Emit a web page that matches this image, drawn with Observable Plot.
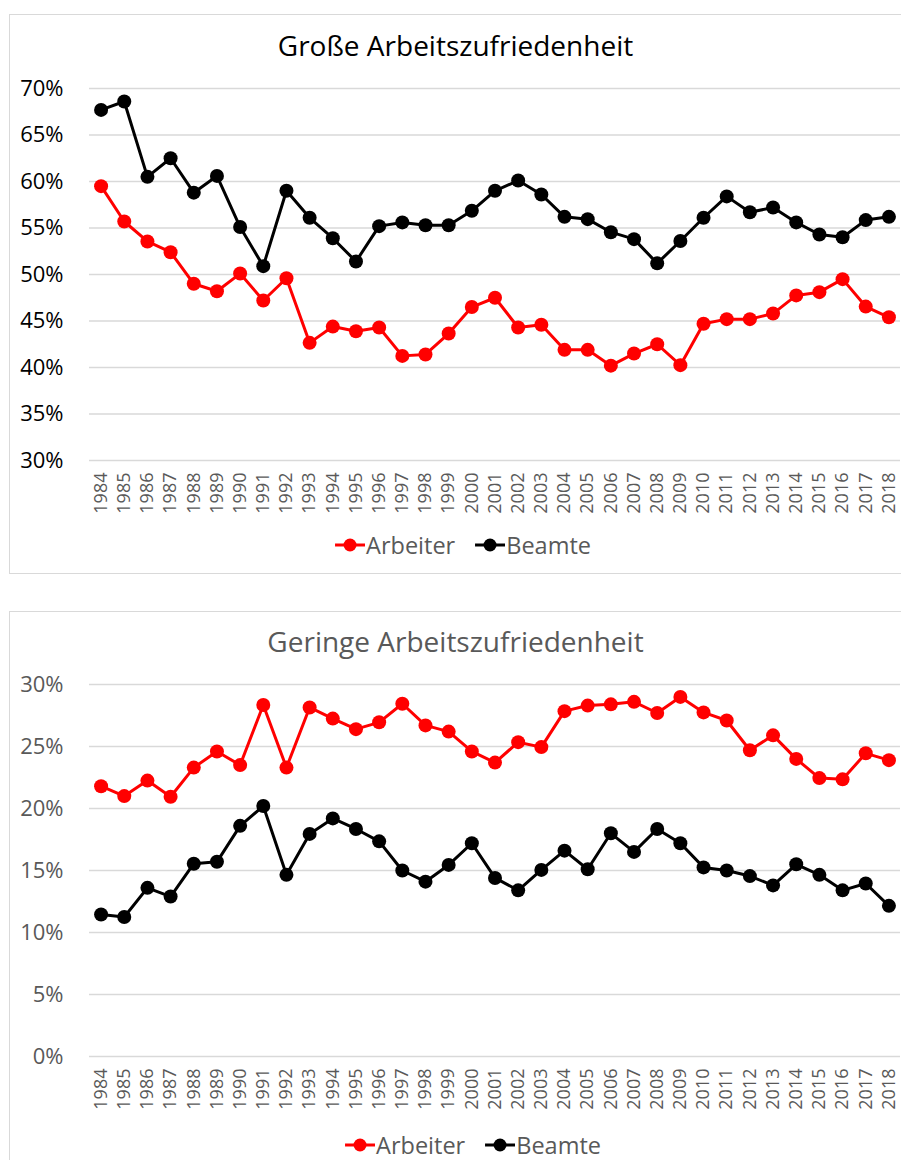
<!DOCTYPE html>
<html>
<head>
<meta charset="utf-8">
<script src="https://cdn.jsdelivr.net/npm/d3@7"></script>
<script src="https://cdn.jsdelivr.net/npm/@observablehq/plot@0.6"></script>
<style>
  html, body { margin: 0; padding: 0; background: #fff; }
  body { position: relative; width: 901px; height: 1160px; overflow: hidden; font-family: "Open Sans", sans-serif; }
  .panel { position: absolute; left: 9px; width: 920px; border: 1px solid #d9d9d9; box-sizing: border-box; }
  .title { position: absolute; left: 10px; width: 891px; text-align: center; line-height: 36px; height: 36px; white-space: nowrap; }
  .chart { position: absolute; left: 10px; }
  .legend { position: absolute; display: flex; align-items: center; height: 26px; line-height: 26px; font-size: 23.5px; color: #595959; white-space: nowrap; transform: translateX(-50%); }
  .legend .item { display: flex; align-items: center; margin: 0 10px; }
  .legend svg { display: block; margin-right: 1px; }
</style>
</head>
<body>
<div class="panel" style="top:14px;height:560px;"></div>
<div class="panel" style="top:611px;height:600px;"></div>
<div class="title" style="top:27px;font-size:28px;color:#000;">Große Arbeitszufriedenheit</div>
<div class="title" style="top:623px;font-size:28px;color:#595959;">Geringe Arbeitszufriedenheit</div>
<div id="chart1" class="chart" style="top:70px;"></div>
<div id="chart2" class="chart" style="top:666px;"></div>
<div id="legend1" class="legend" style="top:532px;left:463px;"></div>
<div id="legend2" class="legend" style="top:1132px;left:473px;"></div>
<script>
const years = ["1984","1985","1986","1987","1988","1989","1990","1991","1992","1993","1994","1995","1996","1997","1998","1999","2000","2001","2002","2003","2004","2005","2006","2007","2008","2009","2010","2011","2012","2013","2014","2015","2016","2017","2018"];
const seriesNames = ["Arbeiter", "Beamte"];
const seriesColors = ["#ff0000", "#000000"];

// Große Arbeitszufriedenheit (%)
const grossArbeiter = [59.5,55.7,53.55,52.4,49.0,48.2,50.1,47.2,49.6,42.65,44.4,43.9,44.3,41.25,41.4,43.65,46.5,47.5,44.3,44.6,41.9,41.9,40.2,41.5,42.5,40.25,44.7,45.2,45.2,45.8,47.75,48.1,49.5,46.55,45.4];
const grossBeamte   = [67.7,68.6,60.5,62.5,58.8,60.6,55.1,50.9,59.0,56.1,53.9,51.4,55.2,55.6,55.3,55.3,56.85,59.0,60.1,58.6,56.2,55.95,54.55,53.8,51.2,53.6,56.1,58.4,56.7,57.2,55.6,54.3,54.0,55.85,56.2];

// Geringe Arbeitszufriedenheit (%)
const geringArbeiter = [21.8,21.0,22.25,20.95,23.3,24.6,23.5,28.35,23.3,28.15,27.25,26.4,26.95,28.45,26.7,26.2,24.6,23.7,25.35,24.95,27.85,28.3,28.4,28.6,27.7,29.0,27.75,27.1,24.7,25.9,24.0,22.45,22.35,24.45,23.9];
const geringBeamte   = [11.45,11.25,13.6,12.9,15.55,15.7,18.6,20.2,14.65,17.95,19.2,18.35,17.35,15.0,14.1,15.45,17.2,14.4,13.4,15.05,16.6,15.1,18.0,16.5,18.35,17.2,15.25,15.0,14.55,13.8,15.5,14.65,13.4,13.95,12.15];

const ticksTop = [30,35,40,45,50,55,60,65,70];
const ticksBottom = [0,5,10,15,20,25,30];

function rows(a, b) {
  return [
    ...years.map((y, i) => ({year: y, series: seriesNames[0], value: a[i]})),
    ...years.map((y, i) => ({year: y, series: seriesNames[1], value: b[i]}))
  ];
}

function chart(data, domain, ticks, yLabelColor) {
  return Plot.plot({
    width: 891,
    height: 450,
    marginTop: 18,
    marginBottom: 60,
    marginLeft: 79,
    marginRight: 1,
    style: {fontFamily: "'Open Sans', sans-serif", background: "transparent", overflow: "visible"},
    x: {type: "point", domain: years, padding: 0.5, align: 0.5, round: false, label: null},
    y: {domain: domain, label: null},
    color: {domain: seriesNames, range: seriesColors},
    marks: [
      Plot.gridY(ticks, {stroke: "#d9d9d9", strokeOpacity: 1, strokeWidth: 1.3}),
      Plot.axisY(ticks, {tickSize: 0, tickPadding: 26, fontSize: 22, fill: yLabelColor, tickFormat: d => d + "%", label: null}),
      Plot.axisX({tickSize: 0, tickPadding: 12, tickRotate: -90, fontSize: 18, fill: "#595959", label: null}),
      Plot.line(data, {x: "year", y: "value", z: "series", stroke: "series", strokeWidth: 3}),
      Plot.dot(data, {x: "year", y: "value", fill: "series", r: 7, stroke: "none"})
    ]
  });
}

document.getElementById("chart1").append(chart(rows(grossArbeiter, grossBeamte), [30, 70], ticksTop, "#000000"));
document.getElementById("chart2").append(chart(rows(geringArbeiter, geringBeamte), [0, 30], ticksBottom, "#595959"));

function legend(el) {
  seriesNames.forEach((name, i) => {
    const item = document.createElement("div");
    item.className = "item";
    item.innerHTML = `<svg width="30" height="16"><line x1="0" y1="8" x2="30" y2="8" stroke="${seriesColors[i]}" stroke-width="3"/><circle cx="15" cy="8" r="6.5" fill="${seriesColors[i]}"/></svg><span>${name}</span>`;
    el.append(item);
  });
}
legend(document.getElementById("legend1"));
legend(document.getElementById("legend2"));
</script>
</body>
</html>
